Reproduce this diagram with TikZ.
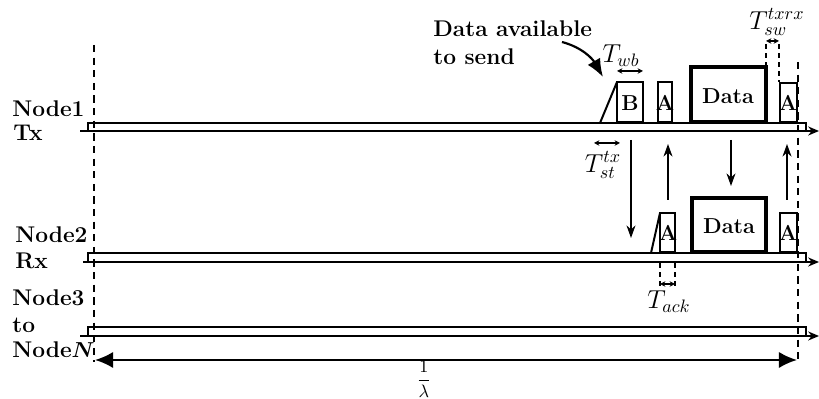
\documentclass[tikz,border=0pt]{standalone}
\usepackage{amsmath,amssymb}
\usetikzlibrary{arrows.meta}

\tikzset{
  lbl/.style={anchor=west,font=\fontsize{12.6}{15.5}\selectfont\bfseries,inner sep=0pt},
  pkt/.style={draw,line width=1.1pt},
  bigpkt/.style={draw,line width=2.2pt},
  ptxt/.style={font=\large\bfseries,inner sep=0pt},
  mlbl/.style={font=\Large,inner sep=0pt},
  sig/.style={thick,-{Stealth[length=7pt,width=5pt]}},
  gap/.style={line width=0.6pt,{Stealth[length=3pt,width=3pt]}-{Stealth[length=3pt,width=3pt]}},
  guide/.style={line width=1.6pt,dash pattern=on 4pt off 3pt},
  tick/.style={line width=1pt,dash pattern=on 3pt off 2pt},
  lane/.style={line width=1pt},
  axis/.style={line width=1.6pt,-{Stealth[length=6pt,width=5pt]}}
}

\begin{document}
\begin{tikzpicture}[x=0.0195cm,y=-0.0195cm]
    \useasboundingbox (0,0) rectangle (819,399);

    % Row labels
    \node[lbl] (n1) at (12,109) {Node1};
    \node[lbl] (tx) at (13,133) {Tx};
    \node[lbl] (n2) at (15,235) {Node2};
    \node[lbl] (rx) at (15,261) {Rx};
    \node[lbl] (n3) at (12,298) {Node3};
    \node[lbl] (to) at (12,325) {to};
    \node[lbl] (nN) at (12,350) {Node$\boldsymbol{N}$};

    % Lanes
    \coordinate (l1s) at (80,131);  \coordinate (l1e) at (819,131);
    \coordinate (l2s) at (83,262);  \coordinate (l2e) at (819,262);
    \coordinate (l3s) at (80,336);  \coordinate (l3e) at (819,336);
    \draw[lane] (88,123) rectangle (806,131);
    \draw[axis] (l1s) -- (l1e);
    \draw[lane] (88,253) rectangle (806,262);
    \draw[axis] (l2s) -- (l2e);
    \draw[lane] (88,327) rectangle (806,336);
    \draw[axis] (l3s) -- (l3e);

    % Period markers
    \coordinate (gl1) at (94,45);  \coordinate (gl2) at (94,362);
    \coordinate (gr1) at (798,62); \coordinate (gr2) at (798,362);
    \draw[guide] (gl1) -- (gl2);
    \draw[guide] (gr1) -- (gr2);
    \coordinate (pl) at (95,360); \coordinate (pr) at (797,360);
    \draw[line width=1.2pt,{Latex[length=10pt,width=9pt]}-{Latex[length=10pt,width=9pt]}] (pl) -- (pr);
    \node[inner sep=0pt] (lam) at (424,379) {$\dfrac{1}{\lambda}$};

    % Node1 (Tx) packets
    \draw[line width=1.1pt] (600,123) -- (617,82);
    \draw[pkt] (617,82) rectangle (643,122);
    \node[ptxt] (b1) at (630,103) {B};
    \draw[pkt] (658,82) rectangle (672,122);
    \node[ptxt] (a1) at (665,103) {A};
    \draw[bigpkt] (691,67) rectangle (766,122);
    \node[ptxt] (d1) at (728,96) {Data};
    \draw[pkt] (780,83) rectangle (797,122);
    \node[ptxt] (a2) at (788,103) {A};

    % Data available
    \node[lbl,align=left] (avail) at (433,43) {Data available\\to send};
    \coordinate (c1) at (562,42); \coordinate (c2) at (603,77);
    \draw[line width=1.2pt,-{Latex[length=10pt,width=8pt]}] (c1) to[out=-15,in=120] (c2);

    % T_wb
    \coordinate (w1) at (617,71); \coordinate (w2) at (643,71);
    \draw[gap] (w1) -- (w2);
    \node[mlbl] (twb) at (621,56) {$T_{wb}$};

    % T_sw
    \coordinate (s1) at (766,41); \coordinate (s2) at (779,41);
    \draw[tick] (766,44) -- (766,66);
    \draw[tick] (779,44) -- (779,82);
    \draw[gap] (s1) -- (s2);
    \node[mlbl] (tsw) at (777,22) {$T_{sw}^{txrx}$};

    % T_st
    \coordinate (t1) at (594,143); \coordinate (t2) at (620,143);
    \draw[gap] (t1) -- (t2);
    \node[mlbl] (tst) at (603,165) {$T_{st}^{tx}$};

    % Signals
    \coordinate (v1a) at (631,140); \coordinate (v1b) at (631,238);
    \coordinate (v2a) at (668,200); \coordinate (v2b) at (668,144);
    \coordinate (v3a) at (731,140); \coordinate (v3b) at (731,186);
    \coordinate (v4a) at (787,200); \coordinate (v4b) at (787,144);
    \draw[sig] (v1a) -- (v1b);
    \draw[sig] (v2a) -- (v2b);
    \draw[sig] (v3a) -- (v3b);
    \draw[sig] (v4a) -- (v4b);

    % Node2 (Rx) packets
    \draw[line width=1.1pt] (651,253) -- (660,213);
    \draw[pkt] (660,213) rectangle (675,252);
    \node[ptxt] (a3) at (668,233) {A};
    \draw[bigpkt] (692,198) rectangle (766,252);
    \node[ptxt] (d2) at (729,226) {Data};
    \draw[pkt] (780,213) rectangle (797,252);
    \node[ptxt] (a4) at (788,233) {A};

    % T_ack
    \coordinate (k1) at (660,284); \coordinate (k2) at (675,284);
    \draw[tick] (660,263) -- (660,286);
    \draw[tick] (675,263) -- (675,286);
    \draw[gap] (k1) -- (k2);
    \node[mlbl] (tack) at (669,302) {$T_{ack}$};
\end{tikzpicture}
\end{document}
